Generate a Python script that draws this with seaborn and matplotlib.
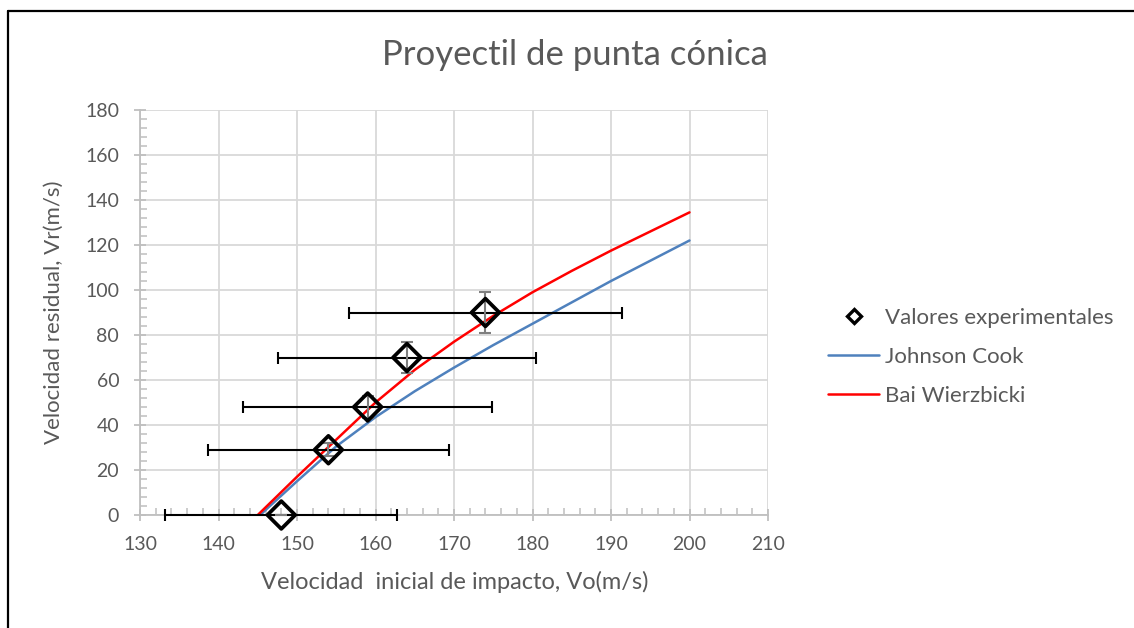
import matplotlib
matplotlib.use("Agg")
import matplotlib.pyplot as plt
from matplotlib.lines import Line2D
from matplotlib.ticker import MultipleLocator
import seaborn as sns
import pandas as pd

# Experimental measurements (impact velocity vs residual velocity) with uncertainties
v0_exp = [148, 154, 159, 164, 174]
vr_exp = [0, 29, 48, 70, 90]
v0_err = [14.8, 15.4, 15.9, 16.4, 17.4]
vr_err = [0.0, 2.9, 4.8, 7.0, 9.0]

# Numerical predictions
v0_jc = [145.3, 150, 155, 160, 165, 170, 175, 180, 185, 190, 195, 200]
vr_jc = [0, 15, 30.5, 43.5, 55, 65.5, 75.5, 85, 94.5, 104, 113, 122]

v0_bw = [145.0, 150, 155, 160, 165, 170, 175, 180, 185, 190, 195, 200]
vr_bw = [0, 17, 33.5, 50, 64.5, 77, 88.5, 99, 108.5, 117.5, 126, 134.5]

label_exp = "Valores experimentales"
label_jc = "Johnson Cook"
label_bw = "Bai Wierzbicki"

sns.set_theme(style="white")
plt.rcParams["font.family"] = ["Lato", "DejaVu Sans"]

TXT = "#595959"
GRID = "#d9d9d9"
AXC = "#bfbfbf"
BLUE = "#4f81bd"
RED = "#ff0000"

fig = plt.figure(figsize=(11.34, 6.28), dpi=100)
W, H = 1134, 628
ax = fig.add_axes([140 / W, 1 - 515 / H, 628 / W, 405 / H])

jc = pd.DataFrame({"v0": v0_jc, "vr": vr_jc})
bw = pd.DataFrame({"v0": v0_bw, "vr": vr_bw})
exp = pd.DataFrame({"v0": v0_exp, "vr": vr_exp})

sns.lineplot(data=jc, x="v0", y="vr", ax=ax, color=BLUE, lw=1.8,
             estimator=None, sort=False, zorder=3)
sns.lineplot(data=bw, x="v0", y="vr", ax=ax, color=RED, lw=1.8,
             estimator=None, sort=False, zorder=3)

# error bars: horizontal in black, vertical in grey
ax.errorbar(v0_exp, vr_exp, xerr=v0_err, fmt="none", ecolor="black",
            elinewidth=1.5, capsize=4, capthick=1.5, zorder=4, clip_on=False)
ax.errorbar(v0_exp, vr_exp, yerr=vr_err, fmt="none", ecolor="#7f7f7f",
            elinewidth=1.5, capsize=4, capthick=1.5, zorder=4)

sns.scatterplot(data=exp, x="v0", y="vr", ax=ax, marker="D", s=200,
                facecolor="none", edgecolor="black", linewidth=2.7, zorder=5,
                clip_on=False)

ax.set_xlim(130, 210)
ax.set_ylim(0, 180)
ax.xaxis.set_major_locator(MultipleLocator(10))
ax.xaxis.set_minor_locator(MultipleLocator(2))
ax.yaxis.set_major_locator(MultipleLocator(20))
ax.yaxis.set_minor_locator(MultipleLocator(4))

ax.grid(True, which="major", color=GRID, lw=1.3)
ax.set_axisbelow(True)
for s in ["top", "right"]:
    ax.spines[s].set_visible(False)
for s in ["left", "bottom"]:
    ax.spines[s].set_color(AXC)
    ax.spines[s].set_linewidth(1.3)

ax.tick_params(which="major", direction="inout", length=8, width=1.3,
               color=AXC, labelsize=14, labelcolor=TXT, pad=11,
               left=True, bottom=True)
ax.tick_params(which="minor", direction="in", length=5, width=1.1,
               color=AXC, left=True, bottom=True)

ax.set_xlabel("Velocidad  inicial de impacto, Vo(m/s)", fontsize=17, color=TXT)
ax.set_ylabel("Velocidad residual, Vr(m/s)", fontsize=16, color=TXT)
ax.xaxis.set_label_coords((455 - 140) / 628, (515 - 571) / 405)
ax.yaxis.set_label_coords((64 - 140) / 628, 0.5)

fig.text(575 / W, 1 - 55 / H, "Proyectil de punta cónica", fontsize=25,
         color=TXT, ha="center", va="center")

handles = [
    Line2D([], [], ls="none", marker="D", markersize=7, markerfacecolor="white",
           markeredgecolor="black", markeredgewidth=2.4),
    Line2D([], [], color=BLUE, lw=1.8),
    Line2D([], [], color=RED, lw=1.8),
]
ax.legend(handles, [label_exp, label_jc, label_bw], loc="center left",
          bbox_to_anchor=(828 / W, 1 - 357 / H), bbox_transform=fig.transFigure,
          frameon=False, fontsize=16, labelcolor=TXT, handlelength=2.3,
          handletextpad=0.25, labelspacing=0.85, borderpad=0, borderaxespad=0)

# chart frame along the top and left edges
fig.add_artist(Line2D([8 / W, 8 / W], [0, 1 - 10.5 / H], transform=fig.transFigure,
                      color="black", lw=1.6))
fig.add_artist(Line2D([8 / W, 1.0], [1 - 10.5 / H, 1 - 10.5 / H],
                      transform=fig.transFigure, color="black", lw=1.6))

fig.savefig("out.png", dpi=100)
